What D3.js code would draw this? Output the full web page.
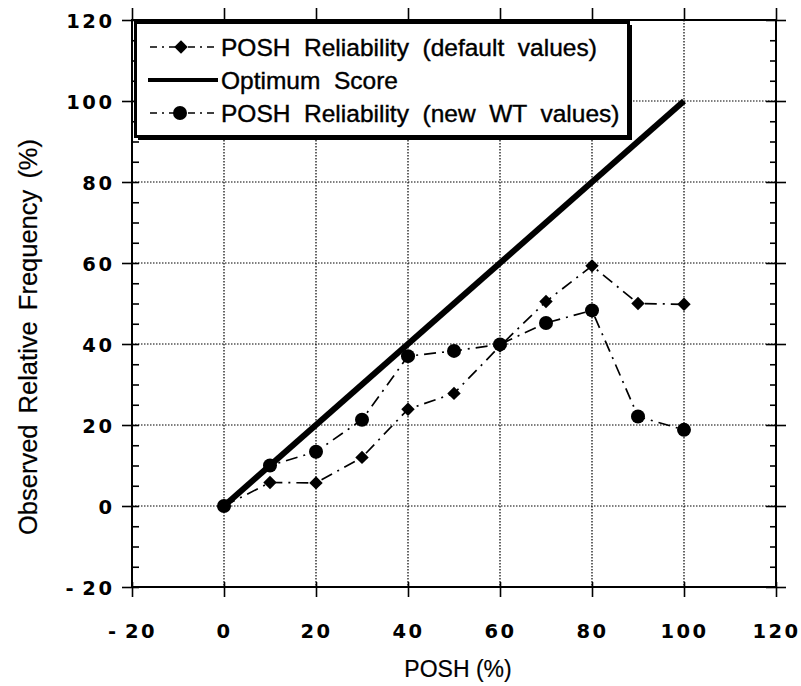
<!DOCTYPE html>
<html><head><meta charset="utf-8">
<script src="https://cdn.jsdelivr.net/npm/d3@7"></script>
<style>body{margin:0;background:#fff}svg{display:block}</style>
</head><body>
<svg id="chart" width="801" height="686"></svg>
<script>
const xTicks = [-20, 0, 20, 40, 60, 80, 100, 120];
const yTicks = [-20, 0, 20, 40, 60, 80, 100, 120];
const poshX = [0, 10, 20, 30, 40, 50, 60, 70, 80, 90, 100];
const defaultValues = [0, 5.8, 5.7, 12.0, 23.9, 27.8, 39.5, 50.5, 59.3, 50.0, 49.8];
const newWTValues = [0, 10.0, 13.4, 21.3, 37.0, 38.3, 39.9, 45.2, 48.3, 22.1, 18.8];
const optimumX = [0, 100];
const optimumY = [0, 100];
const legendLabels = ["POSH  Reliability  (default  values)", "Optimum  Score", "POSH  Reliability  (new  WT  values)"];
const xLabel = "POSH (%)";
const yLabel = "Observed Relative Frequency (%)";

const svg = d3.select("#chart");
const L = 132, R = 776, T = 20, B = 587;
const x = d3.scaleLinear().domain([-20, 120]).range([L, R]);
const y = d3.scaleLinear().domain([-20, 120]).range([B, T]);
const fmt = d => (d < 0 ? "-\u2009" + Math.abs(d) : String(d));

// grid
const grid = svg.append("g").attr("stroke", "#000").attr("stroke-width", 1.2).attr("stroke-dasharray", "1.5,1.5");
grid.selectAll("line.v").data(xTicks.filter(d => d > -20 && d < 120)).join("line")
  .attr("x1", d => x(d)).attr("x2", d => x(d)).attr("y1", T).attr("y2", B);
grid.selectAll("line.h").data(yTicks.filter(d => d > -20 && d < 120)).join("line")
  .attr("y1", d => y(d)).attr("y2", d => y(d)).attr("x1", L).attr("x2", R);

// optimum line
svg.append("path")
  .datum(optimumX.map((d, i) => [d, optimumY[i]]))
  .attr("d", d3.line().x(d => x(d[0])).y(d => y(d[1])))
  .attr("fill", "none").attr("stroke", "#000").attr("stroke-width", 6);

const lineGen = d3.line().x(d => x(d[0])).y(d => y(d[1]));
svg.append("path").datum(poshX.map((d, i) => [d, defaultValues[i]]))
  .attr("d", lineGen).attr("fill", "none").attr("stroke", "#000").attr("stroke-width", 1.7)
  .attr("stroke-dasharray", "12,6,2,6");
svg.append("path").datum(poshX.map((d, i) => [d, newWTValues[i]]))
  .attr("d", lineGen).attr("fill", "none").attr("stroke", "#000").attr("stroke-width", 1.7)
  .attr("stroke-dasharray", "12,6,2,6");

const diamond = d3.symbol().type(d3.symbolSquare).size(90);
svg.append("g").selectAll("path").data(poshX.map((d, i) => [d, defaultValues[i]])).join("path")
  .attr("d", diamond)
  .attr("transform", d => `translate(${x(d[0])},${y(d[1])}) rotate(45)`)
  .attr("fill", "#000");
svg.append("g").selectAll("circle").data(poshX.map((d, i) => [d, newWTValues[i]])).join("circle")
  .attr("cx", d => x(d[0])).attr("cy", d => y(d[1])).attr("r", 7).attr("fill", "#000");

// axes
const tickFont = "'DejaVu Sans', sans-serif";
const ls = 2.5;
function styleTicks(g) {
  g.attr("font-family", null).attr("font-size", null);
  g.select(".domain").remove();
  g.selectAll("text").attr("font-family", tickFont).attr("font-size", 19.5)
    .attr("font-weight", "bold").attr("letter-spacing", ls).attr("fill", "#000")
    .style("white-space", "pre");
  g.selectAll("line").attr("stroke", "#000").attr("stroke-width", 1.6);
}
const gx = svg.append("g").attr("transform", `translate(0,${B})`)
  .call(d3.axisBottom(x).tickValues(xTicks).tickSize(10).tickFormat(fmt));
styleTicks(gx);
gx.selectAll(".tick line").attr("y1", -5);
gx.selectAll(".tick text").attr("y", 51).attr("dy", 0);

const gy = svg.append("g").attr("transform", `translate(${L},0)`)
  .call(d3.axisLeft(y).tickValues(yTicks).tickSize(10).tickFormat(fmt));
styleTicks(gy);
gy.selectAll(".tick line").attr("x1", 7);
gy.selectAll(".tick text").attr("x", -20 + ls).attr("dy", "0.36em");

const minor = d3.range(-20, 121, 5).filter(d => d % 20 !== 0);
const gyMinor = svg.append("g").attr("transform", `translate(${L},0)`)
  .call(d3.axisRight(y).tickValues(minor).tickSize(7).tickFormat(""));
styleTicks(gyMinor);
const gyR = svg.append("g").attr("transform", `translate(${R},0)`)
  .call(d3.axisLeft(y).tickValues(minor).tickSize(6).tickFormat(""));
styleTicks(gyR);
const gyRM = svg.append("g").attr("transform", `translate(${R},0)`)
  .call(d3.axisRight(y).tickValues(yTicks).tickSize(10).tickFormat(""));
styleTicks(gyRM);
gyRM.selectAll(".tick line").attr("x1", -10);
const gxT = svg.append("g").attr("transform", `translate(0,${T})`)
  .call(d3.axisTop(x).tickValues(xTicks).tickSize(12).tickFormat(""));
styleTicks(gxT);

// frame
svg.append("rect").attr("x", L).attr("y", T).attr("width", R - L).attr("height", B - T)
  .attr("fill", "none").attr("stroke", "#000").attr("stroke-width", 2);

// legend
const lg = svg.append("g");
lg.append("rect").attr("x", 138).attr("y", 25).attr("width", 494).attr("height", 115).attr("fill", "#000");
lg.append("rect").attr("x", 135.5).attr("y", 22.5).attr("width", 493).attr("height", 114)
  .attr("fill", "#fff").attr("stroke", "#000").attr("stroke-width", 3);
const rowY = [47, 80, 113];
lg.append("line").attr("x1", 150).attr("x2", 214).attr("y1", rowY[0]).attr("y2", rowY[0])
  .attr("stroke", "#000").attr("stroke-width", 1.7).attr("stroke-dasharray", "7,5,2,5");
lg.append("path").attr("d", diamond).attr("transform", `translate(181,${rowY[0]}) rotate(45)`).attr("fill", "#000");
lg.append("line").attr("x1", 148).attr("x2", 218).attr("y1", rowY[1]).attr("y2", rowY[1])
  .attr("stroke", "#000").attr("stroke-width", 4);
lg.append("line").attr("x1", 150).attr("x2", 214).attr("y1", rowY[2]).attr("y2", rowY[2])
  .attr("stroke", "#000").attr("stroke-width", 1.7).attr("stroke-dasharray", "7,5,2,5");
lg.append("circle").attr("cx", 180).attr("cy", rowY[2]).attr("r", 7).attr("fill", "#000");
lg.selectAll("text").data(legendLabels).join("text")
  .attr("x", 221).attr("y", (d, i) => rowY[i] + 8.5)
  .attr("font-family", "'Liberation Sans', Arial, sans-serif").attr("font-size", 24.5)
  .attr("fill", "#000").attr("stroke", "#000").attr("stroke-width", 0.4)
  .style("white-space", "pre").text(d => d);

// axis titles
svg.append("text").attr("x", 458).attr("y", 677).attr("text-anchor", "middle")
  .attr("font-family", "'Liberation Sans', Arial, sans-serif").attr("font-size", 23)
  .attr("stroke", "#000").attr("stroke-width", 0.2)
  .text(xLabel);
svg.append("text").attr("transform", "translate(37,337) rotate(-90)").attr("text-anchor", "middle")
  .attr("font-family", "'Liberation Sans', Arial, sans-serif").attr("font-size", 25.5)
  .attr("stroke", "#000").attr("stroke-width", 0.2)
  .attr("word-spacing", 4).text(yLabel);
</script>
</body></html>
